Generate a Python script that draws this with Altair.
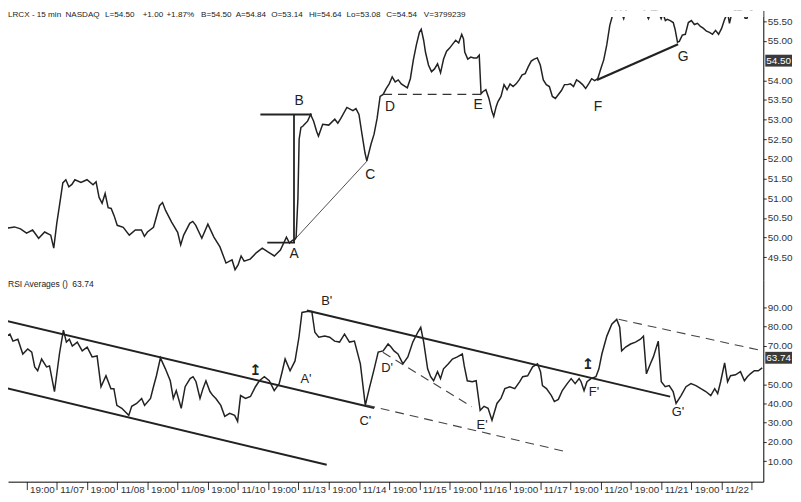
import altair as alt
import pandas as pd

# ---------------- data (time in trading-day units, 11/06 open = 0) ----------------
price_t = [0.06, 0.1, 0.2, 0.3, 0.4, 0.5, 0.6, 0.7, 0.8, 0.9, 0.95,
           1.0, 1.05, 1.1, 1.15, 1.2, 1.25, 1.3, 1.4, 1.5, 1.6, 1.65, 1.7, 1.75, 1.8, 1.85, 1.9, 1.95,
           2.0, 2.1, 2.2, 2.3, 2.4, 2.45, 2.5, 2.6, 2.7, 2.75, 2.8, 2.9,
           3.0, 3.05, 3.1, 3.2, 3.25, 3.3, 3.4, 3.5, 3.6, 3.7, 3.8, 3.9, 3.95,
           4.0, 4.05, 4.1, 4.2, 4.3, 4.4, 4.5, 4.6, 4.7, 4.8, 4.85, 4.9, 4.93, 4.96, 4.99,
           5.01, 5.04, 5.07, 5.1, 5.15, 5.2, 5.25, 5.3, 5.33, 5.4, 5.5, 5.6, 5.65, 5.7, 5.8, 5.9, 5.95,
           6.0, 6.05, 6.1, 6.13, 6.2, 6.25, 6.3, 6.35, 6.4, 6.45, 6.5, 6.55, 6.6, 6.65, 6.7, 6.8, 6.85, 6.9, 6.95,
           7.0, 7.03, 7.07, 7.1, 7.15, 7.2, 7.25, 7.3, 7.35, 7.4, 7.45, 7.5, 7.55, 7.6, 7.65, 7.7, 7.73, 7.75, 7.8, 7.85, 7.9, 7.95, 7.99,
           8.02, 8.05, 8.1, 8.15, 8.2, 8.23, 8.27, 8.3, 8.35, 8.4, 8.45, 8.5, 8.55, 8.6, 8.65, 8.7, 8.75, 8.8, 8.85, 8.9, 8.95,
           9.0, 9.05, 9.1, 9.15, 9.2, 9.25, 9.3, 9.35, 9.4, 9.45, 9.5, 9.55, 9.6, 9.65, 9.7, 9.75, 9.8, 9.85, 9.9, 9.95,
           10.0, 10.05, 10.1, 10.15, 10.2, 10.3, 10.38, 10.45, 10.6, 10.7, 10.79, 10.85, 10.95,
           11.0, 11.03, 11.07, 11.1, 11.15, 11.2, 11.23, 11.27, 11.3, 11.35, 11.4, 11.45, 11.5, 11.55, 11.6, 11.65, 11.7, 11.75, 11.8, 11.85, 11.9, 11.95,
           12.0, 12.05, 12.1, 12.13, 12.17, 12.25, 12.35, 12.39, 12.42, 12.45, 12.55, 12.69]
price_v = [50.39, 50.35, 50.24, 50.27, 50.22, 50.11, 50.19, 49.98, 50.14, 50.06, 49.73,
           50.36, 50.87, 51.39, 51.47, 51.29, 51.35, 51.47, 51.40, 51.47, 51.34, 51.42, 51.02, 50.87, 51.12, 50.76, 50.74, 50.55,
           50.31, 50.26, 50.06, 50.19, 50.19, 50.03, 50.14, 50.26, 50.81, 50.89, 50.69, 50.39,
           50.13, 49.81, 50.06, 50.36, 50.41, 50.31, 49.98, 50.34, 50.01, 49.76, 49.35, 49.43, 49.18,
           49.30, 49.53, 49.40, 49.45, 49.61, 49.73, 49.63, 49.53, 49.68, 50.01, 49.86, 49.93, 49.93, 50.00, 51.00,
           52.50, 52.80, 52.83, 52.88, 52.96, 53.13, 52.96, 52.70, 52.58, 52.88, 52.86, 53.01, 52.91, 53.03, 53.31, 53.23, 53.28,
           53.13, 52.63, 52.15, 51.95, 52.38, 52.63, 53.03, 53.59, 53.64, 53.79, 53.91, 54.09, 53.96, 54.01, 53.91, 53.81, 54.04, 54.52, 54.90,
           55.22, 55.30, 55.02, 54.72, 54.39, 54.22, 54.29, 54.42, 54.19, 54.54, 54.74, 54.82, 54.92, 55.02, 54.95, 55.17, 55.05, 54.72, 54.54, 54.59, 54.57, 54.57, 54.64,
           53.66, 53.71, 53.76, 53.54, 53.21, 53.08, 53.33, 53.46, 53.59, 53.89, 53.76, 53.91, 53.84, 53.91, 54.01, 54.14, 54.17, 54.34, 54.49, 54.54, 54.57,
           54.39, 54.01, 53.89, 53.84, 53.59, 53.54, 53.64, 53.74, 53.89, 53.89, 53.91, 53.84, 54.01, 53.96, 53.89, 53.79, 53.91, 54.04, 53.99, 54.04,
           54.29, 54.52, 54.90, 55.40, 55.68, 55.90, 55.57, 55.95, 56.00, 55.85, 55.57, 55.80, 55.75,
           55.57, 55.70, 55.52, 55.55, 55.52, 55.47, 55.30, 54.97, 54.99, 55.15, 55.17, 55.47, 55.52, 55.42, 55.45, 55.37, 55.32, 55.25, 55.22, 55.17, 55.27, 55.17,
           55.32, 55.55, 55.72, 55.45, 55.72, 55.80, 55.75, 55.58, 55.58, 55.72, 55.85, 55.80]

rsi_t = [0.062, 0.111, 0.176, 0.225, 0.275, 0.356, 0.438, 0.520, 0.586, 0.635, 0.684, 0.749, 0.831, 0.880, 0.962,
         1.044, 1.110, 1.159, 1.208, 1.257, 1.339, 1.421, 1.503, 1.585, 1.667, 1.732, 1.814, 1.896, 1.945, 1.994,
         2.076, 2.191, 2.240, 2.322, 2.404, 2.453, 2.551, 2.600, 2.649, 2.715, 2.797, 2.878, 2.928, 2.977,
         3.059, 3.124, 3.206, 3.255, 3.304, 3.370, 3.419, 3.468, 3.534, 3.583, 3.632, 3.714, 3.779, 3.861, 3.943, 3.992,
         4.041, 4.123, 4.205, 4.287, 4.352, 4.434, 4.516, 4.598, 4.680, 4.729, 4.778, 4.860, 4.942,
         5.007, 5.057, 5.138, 5.220, 5.270, 5.335, 5.434, 5.515, 5.597, 5.679, 5.761, 5.843, 5.925,
         6.023, 6.105, 6.170, 6.252, 6.318, 6.400, 6.482, 6.531, 6.580, 6.645, 6.727, 6.809, 6.891, 6.973,
         7.022, 7.071, 7.136, 7.186, 7.235, 7.300, 7.349, 7.399, 7.480, 7.546, 7.628, 7.710, 7.742, 7.792, 7.874, 7.939,
         8.005, 8.070, 8.136, 8.201, 8.283, 8.349, 8.414, 8.496, 8.578, 8.660, 8.709, 8.791, 8.873, 8.954,
         9.004, 9.036, 9.102, 9.184, 9.233, 9.299, 9.364, 9.446, 9.511, 9.577, 9.642, 9.675, 9.724, 9.773, 9.839, 9.921, 9.970,
         10.019, 10.101, 10.183, 10.265, 10.314, 10.346, 10.412, 10.494, 10.576, 10.658, 10.707, 10.756, 10.822, 10.871, 10.952,
         11.002, 11.067, 11.133, 11.198, 11.247, 11.329, 11.411, 11.493, 11.575, 11.657, 11.739, 11.821, 11.886, 11.935, 11.984,
         12.050, 12.099, 12.148, 12.230, 12.312, 12.377, 12.426, 12.476, 12.541, 12.607, 12.672]
rsi_v = [83.7, 77.0, 75.0, 76.0, 72.4, 73.4, 65.7, 68.3, 66.7, 59.0, 57.0, 63.1, 59.0, 59.5, 46.2,
         65.7, 78.1, 71.9, 73.4, 69.8, 71.9, 67.3, 69.3, 64.2, 64.7, 48.7, 54.4, 47.7, 47.7, 39.0,
         37.5, 33.8, 38.5, 40.0, 42.6, 39.0, 42.6, 48.7, 54.4, 63.7, 58.0, 51.8, 42.6, 46.7,
         37.5, 48.7, 52.9, 53.9, 51.3, 42.6, 47.7, 51.8, 46.2, 44.1, 42.6, 39.0, 33.3, 34.9, 33.8, 30.7,
         44.1, 42.6, 43.6, 48.7, 51.8, 53.9, 51.8, 46.7, 50.3, 56.5, 63.1, 57.0, 62.1,
         74.4, 87.3, 87.8, 87.8, 77.0, 74.4, 75.0, 74.4, 72.4, 71.9, 76.0, 71.9, 72.4,
         60.6, 39.0, 47.7, 58.0, 66.7, 67.3, 70.9, 69.3, 67.3, 65.7, 60.6, 64.2, 71.9, 77.0,
         79.6, 71.9, 58.0, 53.9, 51.8, 56.5, 52.9, 58.0, 60.6, 63.1, 64.2, 65.7, 59.5, 51.8, 51.3, 51.8,
         36.4, 38.5, 37.5, 31.3, 40.0, 42.6, 47.7, 48.7, 47.7, 51.3, 53.9, 54.4, 59.0, 60.6,
         56.5, 49.3, 47.7, 44.1, 41.0, 42.1, 46.7, 50.3, 52.9, 50.3, 52.9, 51.3, 46.7, 51.3, 52.9, 53.9, 58.0,
         65.7, 75.0, 81.2, 83.7, 79.6, 67.3, 69.3, 70.9, 71.9, 73.4, 75.0, 55.4, 60.6, 64.2, 72.4,
         51.3, 48.7, 49.3, 46.2, 40.0, 44.1, 48.7, 50.3, 49.3, 47.7, 46.2, 44.1, 47.7, 45.1, 51.3,
         61.1, 51.3, 54.4, 54.9, 56.5, 51.8, 53.9, 55.4, 57.0, 57.0, 58.5]

dates = ["11/07", "11/08", "11/09", "11/10", "11/13", "11/14", "11/15", "11/16", "11/17", "11/20", "11/21", "11/22"]
tick_labels = []
for d in dates:
    tick_labels += ["19:00", d]
tick_labels += [""]
tick_vals = [0.5 * (i + 1) for i in range(len(tick_labels))]

price_ticks = [49.5, 50.0, 50.5, 51.0, 51.5, 52.0, 52.5, 53.0, 53.5, 54.0, 55.0, 55.5]
rsi_ticks = [10, 20, 30, 40, 50, 70, 80, 90]

header_items = ["LRCX - 15 min", "NASDAQ", "L=54.50", "+1.00", "+1.87%", "B=54.50", "A=54.84",
                "O=53.14", "Hi=54.64", "Lo=53.08", "C=54.54", "V=3799239"]
header_x = [0, 58, 98, 136, 160, 195, 230, 266, 304, 342, 382, 420]
rsi_items = ["RSI Averages ()", "63.74"]
rsi_items_x = [0, 65]
price_last = 54.50
rsi_last = 63.74

# annotation segments ((t, v), (t, v))
bracket_segs = [((4.369, 53.13), (5.220, 53.13)), ((4.925, 53.13), (4.925, 49.87)), ((4.483, 49.87), (4.942, 49.87))]
price_thin_segs = [((4.925, 49.93), (6.137, 51.95))]
price_dash_segs = [((6.40, 53.64), (8.02, 53.64))]
price_thick_segs = [((9.937, 54.01), (11.28, 54.92))]
rsi_solid_segs = [((0.062, 83.72), (6.252, 37.68)), ((0.062, 48.74), (5.466, 8.11)), ((5.138, 88.3), (11.149, 43.55))]
rsi_dash_segs = [((6.121, 39.13), (9.397, 15.16)), ((6.395, 66.6), (7.868, 38.3)), ((10.297, 83.72), (12.69, 67.3))]

price_lab = ["A", "B", "C", "D", "E", "F", "G"]
price_lab_t = [4.925, 5.008, 6.187, 6.514, 7.972, 9.953, 11.362]
price_lab_v = [49.58, 53.46, 51.60, 53.33, 53.36, 53.31, 54.59]
rsi_lab = ["B'", "A'", "C'", "D'", "E'", "F'", "G'"]
rsi_lab_t = [5.466, 5.122, 6.105, 6.465, 8.037, 9.888, 11.28]
rsi_lab_v = [92.98, 52.88, 30.76, 58.5, 28.7, 45.7, 35.4]
arrow_t = [4.287, 9.79]
arrow_v = [57.5, 60.3]

# ---------------- layout ----------------
W, H1, H2 = 763, 272, 204
XDOM = [0.193, 12.69]
FONT = "Liberation Sans"
INK = "#222222"


def segs_df(segs):
    rows = []
    for i, (a, b) in enumerate(segs):
        rows.append({"t": a[0], "v": a[1], "seg": i, "o": 0})
        rows.append({"t": b[0], "v": b[1], "seg": i, "o": 1})
    return pd.DataFrame(rows)


xs = alt.Scale(domain=XDOM, nice=False, zero=False)
x_none = alt.X("t:Q", scale=xs, axis=None)

yax_common = dict(orient="right", format=".2f", grid=False, tickSize=3, labelPadding=1,
                  labelFont=FONT, labelFontSize=10, labelColor="#333333", domainColor="#000000",
                  tickColor="#333333", labelOverlap=False, title=None)

y_top = alt.Y("v:Q", scale=alt.Scale(domain=[48.926, 55.777], nice=False, zero=False),
              axis=alt.Axis(values=price_ticks, **yax_common))
y_bot = alt.Y("v:Q", scale=alt.Scale(domain=[-0.64, 104.3], nice=False, zero=False),
              axis=alt.Axis(values=rsi_ticks, **yax_common))

label_expr = "[" + ",".join("'%s'" % s for s in tick_labels) + "][round(datum.value*2)-1]"
x_axis = alt.Axis(values=tick_vals, labelExpr=label_expr, tickSize=8, labelAlign="left",
                  labelBaseline="top", labelPadding=-5, labelOffset=3, labelFont=FONT,
                  labelFontSize=10, labelColor="#333333", domainColor="#000000",
                  tickColor="#333333", grid=False, labelOverlap=False, labelFlush=False,
                  labelBound=False, title=None)
x_bot_axis = alt.X("t:Q", scale=xs, axis=x_axis)

one = pd.DataFrame({"a": [0]})

# ---- price panel ----
price_df = pd.DataFrame({"t": price_t, "v": price_v})
p_line = alt.Chart(price_df).mark_line(color=INK, strokeWidth=1.5, clip=True).encode(x=x_none, y=y_top)


def seg_layer(segs, x, y, **kw):
    return alt.Chart(segs_df(segs)).mark_line(clip=True, **kw).encode(
        x=x, y=y, detail="seg:N", order="o:Q")


p_bracket = seg_layer(bracket_segs, x_none, y_top, color=INK, strokeWidth=1.8)
p_thin = seg_layer(price_thin_segs, x_none, y_top, color=INK, strokeWidth=0.8)
p_dash = seg_layer(price_dash_segs, x_none, y_top, color="#333333", strokeWidth=1.2, strokeDash=[9, 6])
p_thick = seg_layer(price_thick_segs, x_none, y_top, color=INK, strokeWidth=2.2)

band = alt.Chart(one).mark_rect(color="white").encode(
    x=alt.value(0), x2=alt.value(W), y=alt.value(0), y2=alt.value(6.5))
p_head = alt.Chart(pd.DataFrame({"hx": header_x, "txt": header_items})).mark_text(
    align="left", baseline="top", font=FONT, fontSize=8.2, color=INK).encode(
    x=alt.X("hx:Q", scale=None), y=alt.value(1), text="txt:N")
p_labels = alt.Chart(pd.DataFrame({"t": price_lab_t, "v": price_lab_v, "lab": price_lab})).mark_text(
    font=FONT, fontSize=14, color=INK, align="center", baseline="middle").encode(x=x_none, y=y_top, text="lab:N")

last_p = pd.DataFrame({"v": [price_last], "lab": ["%.2f" % price_last]})
p_box = alt.Chart(last_p).mark_rect(color="#3a3a3a", yOffset=-6, y2Offset=6).encode(
    x=alt.value(W + 2), x2=alt.value(W + 29), y=y_top, y2=alt.Y2("v"))
p_box_t = alt.Chart(last_p).mark_text(align="left", baseline="middle", font=FONT, fontSize=10,
                                      color="white").encode(x=alt.value(W + 3), y=y_top, text="lab:N")

top = alt.layer(p_line, p_bracket, p_thin, p_dash, p_thick, band, p_head, p_labels, p_box, p_box_t).properties(
    width=W, height=H1)

# ---- RSI panel ----
rsi_df = pd.DataFrame({"t": rsi_t, "v": rsi_v})
r_line = alt.Chart(rsi_df).mark_line(color=INK, strokeWidth=1.5, clip=True).encode(x=x_bot_axis, y=y_bot)
r_solid = seg_layer(rsi_solid_segs, x_bot_axis, y_bot, color=INK, strokeWidth=2.0)
r_dash = seg_layer(rsi_dash_segs, x_bot_axis, y_bot, color="#444444", strokeWidth=1.1, strokeDash=[9, 6])
r_head = alt.Chart(pd.DataFrame({"hx": rsi_items_x, "txt": rsi_items})).mark_text(
    align="left", baseline="top", font=FONT, fontSize=8.6, color=INK).encode(
    x=alt.X("hx:Q", scale=None), y=alt.value(0), text="txt:N")
r_labels = alt.Chart(pd.DataFrame({"t": rsi_lab_t, "v": rsi_lab_v, "lab": rsi_lab})).mark_text(
    font=FONT, fontSize=13, color=INK, align="center", baseline="middle").encode(x=x_bot_axis, y=y_bot, text="lab:N")
r_arrows = alt.Chart(pd.DataFrame({"t": arrow_t, "v": arrow_v})).mark_text(
    font="DejaVu Sans", fontSize=15, fontWeight="bold", color=INK, align="center", baseline="middle",
    text="\u21a5").encode(x=x_bot_axis, y=y_bot)

last_r = pd.DataFrame({"v": [rsi_last], "lab": ["%.2f" % rsi_last]})
r_box = alt.Chart(last_r).mark_rect(color="#3a3a3a", yOffset=-6, y2Offset=6).encode(
    x=alt.value(W + 2), x2=alt.value(W + 29), y=y_bot, y2=alt.Y2("v"))
r_box_t = alt.Chart(last_r).mark_text(align="left", baseline="middle", font=FONT, fontSize=10,
                                      color="white").encode(x=alt.value(W + 3), y=y_bot, text="lab:N")

bottom = alt.layer(r_line, r_solid, r_dash, r_head, r_labels, r_arrows, r_box, r_box_t).properties(
    width=W, height=H2)

chart = alt.vconcat(top, bottom, spacing=0).properties(
    padding=0, background="white"
).configure_view(strokeWidth=0)

chart.save("out.html", embed_options={"renderer": "svg", "actions": False})
